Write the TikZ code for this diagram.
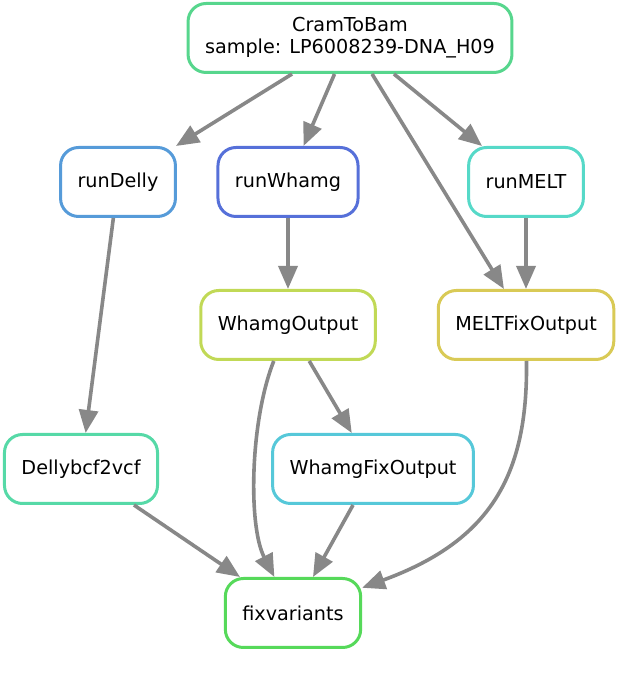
\documentclass[tikz,border=0pt]{standalone}
\usepackage{fontspec}
\setmainfont{DejaVu Sans}
\usepackage{tikz}
\usetikzlibrary{
    % positioning,
    arrows.meta,
    calc
}
\definecolor{cramcol}{RGB}{87,214,141}
\definecolor{dellycol}{RGB}{86,155,217}
\definecolor{whamgcol}{RGB}{86,112,217}
\definecolor{meltcol}{RGB}{86,217,200}
\definecolor{whamgoutcol}{RGB}{193,217,86}
\definecolor{meltfixcol}{RGB}{217,202,86}
\definecolor{dellyvcfcol}{RGB}{86,217,167}
\definecolor{whamgfixcol}{RGB}{86,200,217}
\definecolor{fixvarcol}{RGB}{86,217,90}
\definecolor{edgegrey}{RGB}{136,136,136}
\tikzset{
    every picture/.style = {
        > = {Triangle[length=23pt, width=19pt]}
    },
    rule/.style = {
        draw = #1,
        line width = 3pt,
        rounded corners = 18pt,
        minimum height = 69pt,
        inner xsep = 17pt,
        inner ysep = 2pt,
        fill = white,
        align = center,
        font = \fontsize{19.2}{22}\selectfont
    },
    dep/.style = {
        ->,
        draw = edgegrey,
        line width = 3.6pt
    }
}

\begin{document}
\begin{tikzpicture}[x=1pt, y=1pt]
    \useasboundingbox (0,0) rectangle (635,676);
    % jobs
    \node[rule=cramcol] (cram) at (350,638) {CramToBam\\sample: LP6008239-DNA\_H09};
    \node[rule=dellycol] (rundelly) at (118,494) {runDelly};
    \node[rule=whamgcol] (runwhamg) at (288,494) {runWhamg};
    \node[rule=meltcol] (runmelt) at (526,494) {runMELT};
    \node[rule=whamgoutcol] (whamgout) at (288,351) {WhamgOutput};
    \node[rule=meltfixcol] (meltfix) at (526,351) {MELTFixOutput};
    \node[rule=dellyvcfcol] (dellyvcf) at (81,207) {Dellybcf2vcf};
    \node[rule=whamgfixcol] (whamgfix) at (373,207) {WhamgFixOutput};
    \node[rule=fixvarcol] (fixvar) at (293,63) {fixvariants};
    % dependencies
    \draw[dep] (cram) -- (rundelly);
    \draw[dep] (cram) -- (runwhamg);
    \draw[dep] (cram) -- (meltfix);
    \draw[dep] (cram) -- (runmelt);
    \draw[dep] (rundelly) -- (dellyvcf);
    \draw[dep] (runwhamg) -- (whamgout);
    \draw[dep] (runmelt) -- (meltfix);
    \draw[dep] (whamgout) -- (whamgfix);
    \draw[dep] (whamgout) .. controls (250,255) and (248,150) .. (fixvar);
    \draw[dep] (meltfix) .. controls (528,200) and (490,135) .. (fixvar);
    \draw[dep] (dellyvcf) -- (fixvar);
    \draw[dep] (whamgfix) -- (fixvar);
\end{tikzpicture}
\end{document}
